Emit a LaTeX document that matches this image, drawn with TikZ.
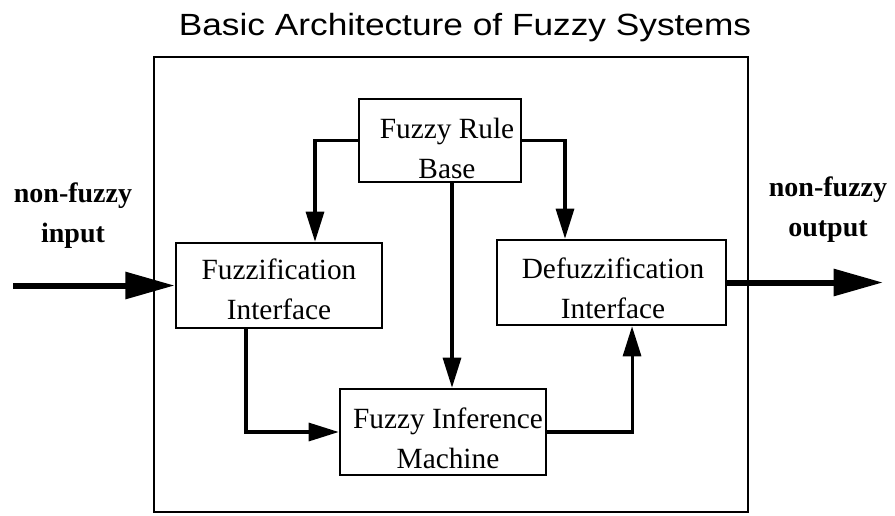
\documentclass[tikz,border=0pt]{standalone}
\usepackage{fontspec}
\setmainfont{Liberation Serif}
\newfontfamily\titlefont{Liberation Sans}
\usetikzlibrary{arrows.meta,calc}

\begin{document}
\begin{tikzpicture}[x=0.75pt,y=-0.75pt,
  block/.style={draw,line width=1.9pt,inner sep=0pt,rectangle},
  blocktext/.style={align=center,inner sep=0pt,font=\fontsize{22}{30}\selectfont},
  iolabel/.style={align=center,inner sep=0pt,font=\bfseries\fontsize{21}{29.5}\selectfont},
  flow/.style={line width=2.3pt,-{Triangle[length=22.5pt,width=13.5pt]}},
  signal/.style={line width=4.5pt,-{Triangle[length=37pt,width=19.5pt]}}]
\useasboundingbox (0,0) rectangle (895,515);

% title
\node[anchor=base,inner sep=0pt] (title) at (465,35)
  {\titlefont\fontsize{23}{28}\selectfont\scalebox{1.15}[1]{Basic Architecture of Fuzzy Systems}};

% system frame
\node[draw,line width=1.5pt,inner sep=0pt,minimum width=445.5pt,minimum height=341.25pt]
  (frame) at (451,284.5) {};

% blocks
\node[block,minimum width=121.5pt,minimum height=62.25pt] (rb)  at (440,140.5) {};
\node[block,minimum width=154.5pt,minimum height=63.75pt] (fz)  at (279,285.5) {};
\node[block,minimum width=171.75pt,minimum height=63.75pt] (dfz) at (611.5,282.5) {};
\node[block,minimum width=154.5pt,minimum height=64.5pt]  (inf) at (443,432) {};

\node[blocktext] (rbT)  at ([shift={(7,7.5)}]rb.center)   {Fuzzy Rule\\Base};
\node[blocktext] (fzT)  at ([shift={(0,3.5)}]fz.center)   {Fuzzification\\Interface};
\node[blocktext] (dfzT) at ([shift={(1.5,5.5)}]dfz.center) {Defuzzification\\Interface};
\node[blocktext] (infT) at ([shift={(5,6)}]inf.center)    {Fuzzy Inference\\Machine};

% outside labels
\node[iolabel] (inL)  at (73,215.5)  {non-fuzzy\\input};
\node[iolabel] (outL) at (828,209.5) {non-fuzzy\\output};

% internal flow
\draw[flow] (rb.west) -| ([xshift=27pt]fz.north);
\draw[flow] (rb.east) -| ([xshift=-34.875pt]dfz.north);
\draw[flow] ([xshift=9pt]rb.south) -- ([xshift=9pt]rb.south |- inf.north);
\draw[flow] ([xshift=-24.75pt]fz.south) |- (inf.west);
\draw[flow] (inf.east) -| ([xshift=15.4pt]dfz.south);

% input and output signals
\coordinate (inStart) at (13,285.5);
\coordinate (outEnd) at (883,282.5);
\draw[signal] (inStart) -- (fz.west);
\draw[signal] (dfz.east) -- (dfz.east -| outEnd);
\end{tikzpicture}
\end{document}
